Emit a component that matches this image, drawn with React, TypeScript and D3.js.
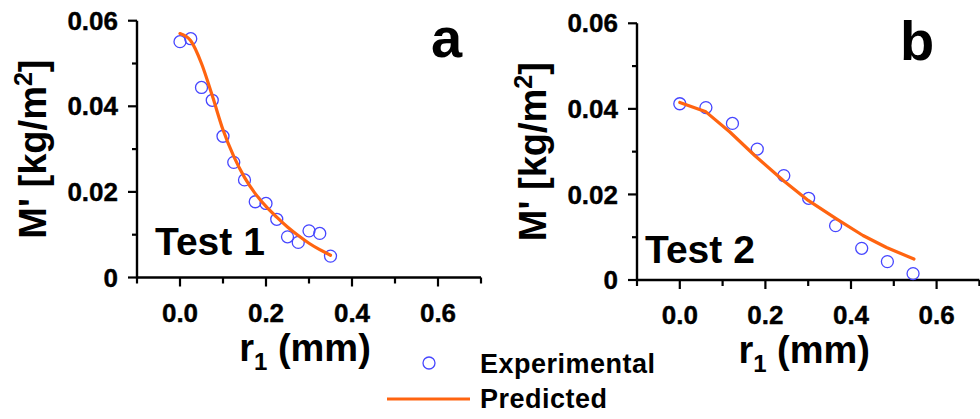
import React from "react";
import * as d3 from "d3";

// ---- data ----
const xMajorTicks = [0.0, 0.2, 0.4, 0.6];
const xMinorTicks = [-0.1, 0.1, 0.3, 0.5, 0.7];
const yMajorTicks = [0, 0.02, 0.04, 0.06];
const yTickLabels = ["0", "0.02", "0.04", "0.06"];
const yMinorTicks = [0.01, 0.03, 0.05];

const test1R = [0, 0.025, 0.05, 0.075, 0.1, 0.125, 0.15, 0.175, 0.2, 0.225, 0.25, 0.275, 0.3, 0.325, 0.35];
const test1Exp = [0.0551, 0.0558, 0.0444, 0.0414, 0.033, 0.0269, 0.0228, 0.0177, 0.0173, 0.0136, 0.0095, 0.0082, 0.0109, 0.0103, 0.005];
const test1Pred = [0.057, 0.0553, 0.05, 0.0425, 0.0345, 0.0283, 0.0234, 0.0196, 0.0166, 0.0141, 0.0118, 0.0098, 0.008, 0.0065, 0.0052];

const test2R = [0, 0.061, 0.123, 0.181, 0.243, 0.301, 0.364, 0.425, 0.485, 0.545];
const test2Exp = [0.0412, 0.0403, 0.0366, 0.0306, 0.0244, 0.0191, 0.0127, 0.0074, 0.0043, 0.0015];
const test2PredR = [0, 0.061, 0.117, 0.175, 0.241, 0.3, 0.366, 0.428, 0.483, 0.547];
const test2Pred = [0.0415, 0.0393, 0.0346, 0.0291, 0.0233, 0.0186, 0.0143, 0.0104, 0.0076, 0.0049];

const FONT = "'Liberation Sans', Arial, Helvetica, sans-serif";
const BLUE = "#4646ff";
const ORANGE = "#ff6410";

type PanelProps = {
  x0: number; x1: number; y0: number; y1: number;
  letter: string; letterX: number; letterY: number;
  test: string; testX: number; testY: number;
  expR: number[]; exp: number[]; predR: number[]; pred: number[];
  smooth: boolean;
};

function Panel(p: PanelProps) {
  const x = d3.scaleLinear().domain([-0.1, 0.7]).range([p.x0, p.x1]);
  const y = d3.scaleLinear().domain([0, 0.06]).range([p.y0, p.y1]);
  const line = d3
    .line<number>()
    .x((_, i) => x(p.predR[i]))
    .y((d) => y(d))
    .curve(p.smooth ? d3.curveMonotoneX : d3.curveLinear);
  const xMid = (p.x0 + p.x1) / 2 - 4;
  const yMid = (p.y0 + p.y1) / 2;
  const titleX = p.x0 - 91.5;
  return (
    <g fontFamily={FONT} fontWeight="bold" fill="#000">
      {/* axes */}
      <line x1={p.x0} x2={p.x0} y1={p.y0 + 1} y2={y(0.06)} stroke="#000" strokeWidth={2.4} />
      <line x1={p.x0 - 1} x2={p.x1} y1={p.y0} y2={p.y0} stroke="#000" strokeWidth={2.4} />
      {yMajorTicks.map((t, i) => (
        <g key={"ym" + i}>
          <line x1={p.x0 - 9} x2={p.x0} y1={y(t)} y2={y(t)} stroke="#000" strokeWidth={2.2} />
          <text x={p.x0 - 19} y={y(t)} dy="0.35em" textAnchor="end" fontSize={26} stroke="#000" strokeWidth={0.4}>
            {yTickLabels[i]}
          </text>
        </g>
      ))}
      {yMinorTicks.map((t, i) => (
        <line key={"yn" + i} x1={p.x0 - 5} x2={p.x0} y1={y(t)} y2={y(t)} stroke="#000" strokeWidth={2.2} />
      ))}
      {xMajorTicks.map((t, i) => (
        <g key={"xm" + i}>
          <line x1={x(t)} x2={x(t)} y1={p.y0} y2={p.y0 + 9} stroke="#000" strokeWidth={2.2} />
          <text x={x(t)} y={p.y0 + 44} textAnchor="middle" fontSize={26} stroke="#000" strokeWidth={0.4}>
            {d3.format(".1f")(t)}
          </text>
        </g>
      ))}
      {xMinorTicks.map((t, i) => (
        <line key={"xn" + i} x1={x(t)} x2={x(t)} y1={p.y0} y2={p.y0 + 6} stroke="#000" strokeWidth={2.2} />
      ))}
      {/* axis titles */}
      <text x={xMid} y={p.y0 + 83} textAnchor="middle" fontSize={38}>
        r<tspan fontSize={24} dy={9}>1</tspan>
        <tspan dy={-9}> (mm)</tspan>
      </text>
      <text
        transform={`translate(${titleX},${yMid}) rotate(-90)`}
        textAnchor="middle"
        fontSize={38}
      >
        M' [kg/m<tspan fontSize={25} dy={-14}>2</tspan>
        <tspan dy={14}>]</tspan>
      </text>
      {/* labels */}
      <text x={p.letterX} y={p.letterY} fontSize={56}>{p.letter}</text>
      <text x={p.testX} y={p.testY} fontSize={39}>{p.test}</text>
      {/* data */}
      {p.exp.map((v, i) => (
        <circle key={"c" + i} cx={x(p.expR[i])} cy={y(v)} r={6} fill="none" stroke={BLUE} strokeWidth={1.3} />
      ))}
      <path d={line(p.pred) || ""} fill="none" stroke={ORANGE} strokeWidth={3.2} strokeLinejoin="round" strokeLinecap="round" />
    </g>
  );
}

export default function App() {
  return (
    <svg
      width={980}
      height={419}
      style={{ position: "absolute", left: 0, top: 0, background: "#fff" }}
    >
      <rect width={980} height={419} fill="#fff" />
      <Panel
        x0={137} x1={481} y0={277.5} y1={20.7}
        letter="a" letterX={431} letterY={57}
        test="Test 1" testX={155} testY={255}
        expR={test1R} exp={test1Exp} predR={test1R} pred={test1Pred}
        smooth={true}
      />
      <Panel
        x0={637} x1={979.4} y0={280} y1={23.3}
        letter="b" letterX={900} letterY={60}
        test="Test 2" testX={645} testY={263}
        expR={test2R} exp={test2Exp} predR={test2PredR} pred={test2Pred}
        smooth={false}
      />
      {/* legend */}
      <g fontFamily={FONT} fontWeight="bold" fontSize={27} letterSpacing={0.5}>
        <circle cx={429} cy={363} r={6} fill="none" stroke={BLUE} strokeWidth={1.3} />
        <text x={480} y={373}>Experimental</text>
        <line x1={387} x2={470} y1={399} y2={399} stroke={ORANGE} strokeWidth={3.2} />
        <text x={480} y={408}>Predicted</text>
      </g>
    </svg>
  );
}
